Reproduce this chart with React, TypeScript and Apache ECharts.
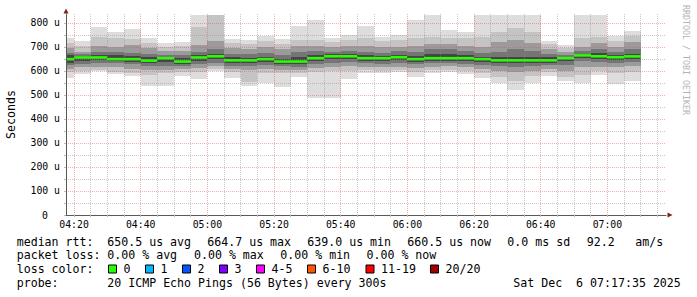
import React, { useEffect, useRef } from 'react';
import * as echarts from 'echarts';

// ---------------- data ----------------
const slotStart = [
  '04:15', '04:20', '04:25', '04:30', '04:35', '04:40', '04:45', '04:50', '04:55',
  '05:00', '05:05', '05:10', '05:15', '05:20', '05:25', '05:30', '05:35', '05:40', '05:45', '05:50', '05:55',
  '06:00', '06:05', '06:10', '06:15', '06:20', '06:25', '06:30', '06:35', '06:40', '06:45', '06:50', '06:55',
  '07:00', '07:05',
];
const slotMinutes = 5; // probe every 300s

// values in microseconds (smoke envelope, outer -> inner)
const pingMax = [738, 726, 781, 764, 776, 735, 718, 722, 831, 831, 732, 728, 744, 732, 785, 814, 735, 749, 789, 742, 751, 811, 831, 769, 764, 831, 831, 831, 831, 726, 708, 831, 831, 744, 767];
const pingHi2 = [715, 705, 740, 738, 733, 715, 700, 705, 781, 831, 715, 712, 725, 712, 730, 730, 720, 730, 735, 725, 730, 735, 740, 735, 735, 740, 760, 778, 762, 710, 695, 735, 742, 725, 745];
const pingHi3 = [695, 680, 705, 700, 706, 695, 683, 685, 706, 726, 695, 690, 700, 690, 705, 705, 700, 705, 705, 700, 700, 705, 710, 712, 705, 700, 720, 730, 715, 690, 680, 700, 715, 700, 720];
const pingHi4 = [675, 670, 680, 680, 675, 672, 668, 665, 678, 690, 672, 670, 675, 668, 680, 685, 680, 685, 680, 675, 682, 680, 690, 692, 685, 675, 680, 690, 685, 672, 668, 682, 690, 680, 690];
const pingHi5 = [665, 662, 668, 665, 663, 660, 660, 652, 665, 672, 658, 655, 660, 650, 658, 668, 670, 672, 665, 662, 668, 662, 670, 672, 668, 660, 660, 660, 658, 656, 660, 672, 675, 665, 672];
const medianRtt = [649, 656, 656, 649, 649, 643, 653, 639, 656, 661, 644, 644, 649, 639, 639, 653, 661, 661, 653, 653, 657, 649, 653, 653, 653, 649, 644, 644, 644, 644, 653, 664.7, 661, 657, 660.5];
const pingLo5 = [635, 640, 645, 640, 638, 632, 636, 628, 642, 648, 632, 632, 636, 630, 628, 642, 648, 650, 642, 640, 645, 638, 642, 642, 640, 638, 632, 632, 632, 634, 640, 655, 650, 645, 650];
const pingLo4 = [625, 630, 635, 632, 628, 622, 620, 620, 628, 635, 622, 620, 625, 620, 618, 630, 635, 638, 632, 630, 632, 628, 632, 632, 628, 625, 620, 618, 620, 624, 625, 640, 636, 632, 638];
const pingLo3 = [610, 615, 615, 615, 608, 605, 605, 608, 612, 620, 610, 605, 608, 605, 605, 612, 615, 620, 618, 615, 618, 612, 618, 620, 615, 610, 600, 595, 600, 610, 600, 615, 618, 615, 620];
const pingLo2 = [595, 600, 605, 595, 590, 585, 590, 594, 594, 610, 595, 555, 590, 590, 590, 595, 600, 600, 603, 600, 605, 595, 605, 605, 600, 590, 575, 560, 580, 595, 575, 585, 600, 590, 595];
const pingMin = [570, 587, 598, 587, 578, 536, 536, 578, 565, 601, 569, 536, 549, 532, 574, 487, 487, 565, 590, 590, 597, 574, 590, 597, 587, 569, 549, 519, 550, 578, 557, 550, 581, 544, 556];

const viewStart = '04:17:35';
const viewEnd = '07:17:35';
const yMaxValue = 837;
const yTickValues = [0, 50, 100, 150, 200, 250, 300, 350, 400, 450, 500, 550, 600, 650, 700, 750, 800];
const yLabelValues = [0, 100, 200, 300, 400, 500, 600, 700, 800];
const xTickTimes = [
  '04:20', '04:25', '04:30', '04:35', '04:40', '04:45', '04:50', '04:55',
  '05:00', '05:05', '05:10', '05:15', '05:20', '05:25', '05:30', '05:35', '05:40', '05:45', '05:50', '05:55',
  '06:00', '06:05', '06:10', '06:15', '06:20', '06:25', '06:30', '06:35', '06:40', '06:45', '06:50', '06:55',
  '07:00', '07:05', '07:10', '07:15',
];
const xLabelTimes = ['04:20', '04:40', '05:00', '05:20', '05:40', '06:00', '06:20', '06:40', '07:00'];

const yTitle = 'Seconds';
const rttTitle = 'median rtt:';
const rttStats = ['650.5 us avg', '664.7 us max', '639.0 us min', '660.5 us now', '0.0 ms sd'];
const amsValue = '92.2';
const amsUnit = 'am/s';
const lossTitle = 'packet loss:';
const lossStats = ['0.00 % avg', '0.00 % max', '0.00 % min', '0.00 % now'];
const lossColorTitle = 'loss color:';
const lossLabels = ['0', '1', '2', '3', '4-5', '6-10', '11-19', '20/20'];
const lossColors = ['#26ff00', '#00b8ff', '#0059ff', '#7e00ff', '#ff00ff', '#ff5500', '#ff0000', '#a10000'];
const probeTitle = 'probe:';
const probeText = '20 ICMP Echo Pings (56 Bytes) every 300s';
const stampDay = 'Sat Dec';
const stampRest = '6 07:17:35 2025';
const watermark = 'RRDTOOL / TOBI OETIKER';

// ---------------- helpers / styles ----------------
const toMin = (s: string) => {
  const p = s.split(':').map(Number);
  return p[0] * 60 + p[1] + (p[2] || 0) / 60;
};
const pad = (n: number) => String(n).padStart(2, '0');
const fmtTime = (v: number) => {
  const t = Math.round(v);
  return pad(Math.floor(t / 60)) + ':' + pad(t % 60);
};

const MONO = '"DejaVu Sans Mono", monospace';
const MAJOR = 'rgba(222,79,79,0.45)';
const MINOR = 'rgba(143,143,143,0.5)';
const X_MIN = toMin(viewStart);
const X_MAX = toMin(viewEnd);
const SMOKE: [number, number, string][] = [
  [2, 12, '#dddddd'],
  [3, 11, '#c4c4c4'],
  [4, 10, '#9b9b9b'],
  [5, 9, '#757575'],
  [6, 8, '#454545'],
];

const txt = (text: string, x: number, y: number, size = 11.6, fill = '#000') => ({
  type: 'text', x, y, silent: true,
  style: { text, fontFamily: MONO, fontSize: size, fill, align: 'left', verticalAlign: 'middle' },
});

function buildOption(): any {
  const data = slotStart.map((t, i) => [
    toMin(t), toMin(t) + slotMinutes,
    pingMin[i], pingLo2[i], pingLo3[i], pingLo4[i], pingLo5[i], medianRtt[i],
    pingHi5[i], pingHi4[i], pingHi3[i], pingHi2[i], pingMax[i],
  ]);

  const R1 = 241.5, R2 = 255.3, R3 = 269, R4 = 282.7;
  const rttX = [107.3, 207.3, 307.3, 407.3, 507.3];
  const lossX = [107.3, 194, 280.3, 366.5];
  const boxX = [108.5, 145.5, 182.5, 219.5, 256.5, 307.5, 366, 430.5];
  const graphics: any[] = [
    {
      type: 'text', x: 10.7, y: 114.5, rotation: Math.PI / 2, silent: true,
      style: { text: yTitle, fontFamily: MONO, fontSize: 11.6, fill: '#000', align: 'center', verticalAlign: 'middle' },
    },
    txt(rttTitle, 16.7, R1),
    ...rttStats.map((s, i) => txt(s, rttX[i], R1)),
    txt(amsValue, 586.7, R1),
    txt(amsUnit, 635.3, R1),
    txt(lossTitle, 16.7, R2),
    ...lossStats.map((s, i) => txt(s, lossX[i], R2)),
    txt(lossColorTitle, 16.7, R3),
    txt(probeTitle, 16.7, R4),
    txt(probeText, 107.3, R4),
    txt(stampDay, 513.3, R4),
    txt(stampRest, 576.1, R4),
    {
      type: 'text', x: 686, y: 5, rotation: -Math.PI / 2, silent: true,
      style: { text: watermark, fontFamily: MONO, fontSize: 8.3, fill: '#b4b4b4', align: 'left', verticalAlign: 'middle' },
    },
  ];
  lossLabels.forEach((l, i) => {
    graphics.push({
      type: 'rect', silent: true,
      shape: { x: boxX[i], y: R3 - 4, width: 8, height: 8 },
      style: { fill: lossColors[i], stroke: '#000', lineWidth: 1 },
    });
    graphics.push(txt(l, boxX[i] + 15, R3));
  });

  return {
    animation: false,
    backgroundColor: '#ffffff',
    grid: { left: 66, right: 31, top: 14, bottom: 82, containLabel: false },
    xAxis: {
      type: 'value', min: X_MIN, max: X_MAX, z: 5,
      axisLine: { show: true, onZero: false, lineStyle: { color: '#5a5a5a', width: 1 } },
      axisTick: { show: true, length: 2, customValues: xTickTimes.map(toMin), lineStyle: { color: '#bbb' } },
      axisLabel: {
        customValues: xLabelTimes.map(toMin), formatter: fmtTime, margin: 4,
        fontFamily: MONO, fontSize: 9.8, color: '#000',
      },
      splitLine: {
        show: true,
        lineStyle: { type: [1, 1], width: 1, color: xTickTimes.map(t => (xLabelTimes.includes(t) ? MAJOR : MINOR)) },
      },
    },
    yAxis: {
      type: 'value', min: 0, max: yMaxValue, z: 5,
      axisLine: { show: true, lineStyle: { color: '#5a5a5a', width: 1 } },
      axisTick: { show: true, length: 2, customValues: yTickValues, lineStyle: { color: '#bbb' } },
      axisLabel: {
        customValues: yLabelValues, margin: 6, fontFamily: MONO, fontSize: 9.8, color: '#000',
        formatter: (v: number) => (v === 0 ? '{z|0}' : `${v} u`),
        rich: { z: { fontFamily: MONO, fontSize: 9.8, color: '#000', padding: [0, 12, 0, 0] } },
      },
      splitLine: {
        show: true,
        lineStyle: { type: [1, 1], width: 1, color: yTickValues.map(v => (yLabelValues.includes(v) ? MAJOR : MINOR)) },
      },
    },
    graphic: graphics,
    series: [
      {
        type: 'custom', z: 2, silent: true,
        data,
        encode: { x: 0, y: 7 },
        renderItem: (params: any, api: any) => {
          const cs = params.coordSys;
          const bounds = { x: cs.x, y: cs.y, width: cs.width, height: cs.height };
          const x0 = api.value(0), x1 = api.value(1);
          const box = (lo: number, hi: number, hpx?: number) => {
            const a = api.coord([x0, lo]);
            const b = api.coord([x1, hi]);
            const left = Math.round(a[0]), right = Math.round(b[0]);
            let top = Math.round(b[1]), bottom = Math.round(a[1]);
            if (hpx) { top = a[1] - hpx / 2; bottom = a[1] + hpx / 2; }
            return echarts.graphic.clipRectByRect({ x: left, y: top, width: right - left, height: bottom - top }, bounds);
          };
          const children: any[] = [];
          SMOKE.forEach(([lo, hi, color]) => {
            const shape = box(api.value(lo), api.value(hi));
            if (shape) children.push({ type: 'rect', shape, style: { fill: color } });
          });
          const m = api.value(7);
          const ms = box(m, m, 2.6);
          if (ms) children.push({ type: 'rect', shape: ms, style: { fill: lossColors[0] } });
          return { type: 'group', children };
        },
      },
      {
        type: 'scatter', data: [], silent: true,
        markPoint: {
          symbol: 'triangle', symbolSize: [5, 5], silent: true, animation: false,
          itemStyle: { color: '#801f1f' }, label: { show: false },
          data: [
            { coord: [X_MAX, 0], symbolRotate: -90, symbolOffset: [4, 0] },
            { coord: [X_MIN, yMaxValue], symbolOffset: [0, -3] },
          ],
        },
      },
    ],
  };
}

export default function App() {
  const ref = useRef<HTMLDivElement>(null);
  useEffect(() => {
    if (!ref.current) return;
    const chart = echarts.init(ref.current, null, { renderer: 'svg' });
    chart.setOption(buildOption());
    return () => chart.dispose();
  }, []);
  return <div ref={ref} style={{ position: 'fixed', left: 0, top: 0, width: 697, height: 297 }} />;
}
